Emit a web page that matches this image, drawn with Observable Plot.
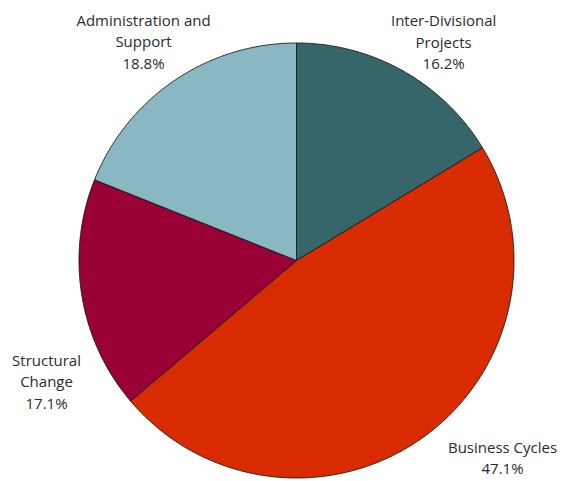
<!DOCTYPE html>
<html>
<head>
<meta charset="utf-8">
<script src="https://cdn.jsdelivr.net/npm/d3@7"></script>
<script src="https://cdn.jsdelivr.net/npm/@observablehq/plot@0.6"></script>
<style>
  html, body { margin: 0; padding: 0; background: #fff; }
  #chart { width: 569px; height: 481px; }
</style>
</head>
<body>
<div id="chart"></div>
<script>
// ---- data ----
const categories = ["Inter-Divisional Projects", "Business Cycles", "Structural Change", "Administration and Support"];
const labelLines = [["Inter-Divisional", "Projects"], ["Business Cycles"], ["Structural", "Change"], ["Administration and", "Support"]];
const shares = [16.2, 47.1, 17.1, 18.8];
const shareLabels = ["16.2%", "47.1%", "17.1%", "18.8%"];
const colors = ["#36656a", "#d82c00", "#990036", "#89b8c3"];

// ---- layout ----
const W = 569, H = 481;
const cx = 296, cy = 260, R = 217.5;        // pie centre and radius in pixels
const labelAngleShift = [4.4, -10.7, -16.4, -0.7]; // degrees relative to slice middle
const labelRadius = [1.216, 1.307, 1.275, 1.232];  // multiples of pie radius

const pie = d3.pie().sort(null).value(d => d.value)
  .startAngle(0).endAngle(2 * Math.PI);
const arcs = pie(categories.map((c, i) => ({category: c, value: shares[i]})));

// polygon outline for each slice (unit circle, y pointing down)
const pts = [];
arcs.forEach(a => {
  const c = a.data.category;
  pts.push({category: c, u: 0, v: 0});
  const n = Math.max(2, Math.ceil((a.endAngle - a.startAngle) / (Math.PI / 360)));
  for (let k = 0; k <= n; k++) {
    const t = a.startAngle + (a.endAngle - a.startAngle) * k / n;
    pts.push({category: c, u: Math.sin(t), v: -Math.cos(t)});
  }
  pts.push({category: c, u: 0, v: 0});
});

const labels = arcs.map((a, i) => {
  const mid = (a.startAngle + a.endAngle) / 2 + labelAngleShift[i] * Math.PI / 180;
  return {
    text: [...labelLines[i], shareLabels[i]].join("\n"),
    u: labelRadius[i] * Math.sin(mid),
    v: -labelRadius[i] * Math.cos(mid)
  };
});

const chart = Plot.plot({
  width: W,
  height: H,
  margin: 0,
  x: {domain: [-cx / R, (W - cx) / R], range: [0, W], axis: null},
  y: {domain: [-cy / R, (H - cy) / R], range: [0, H], axis: null},
  color: {domain: categories, range: colors},
  style: {fontFamily: "'Open Sans', sans-serif", background: "#fff"},
  marks: [
    Plot.line(pts, {x: "u", y: "v", z: "category", fill: "category", stroke: "#1a1a1a", strokeWidth: 0.9, strokeLinejoin: "round", curve: "linear"}),
    Plot.text(labels, {x: "u", y: "v", text: "text", fontSize: 15, lineHeight: 1.43, fill: "#2b2b2b", textAnchor: "middle", lineAnchor: "middle"})
  ]
});
document.getElementById("chart").appendChild(chart);
</script>
</body>
</html>
